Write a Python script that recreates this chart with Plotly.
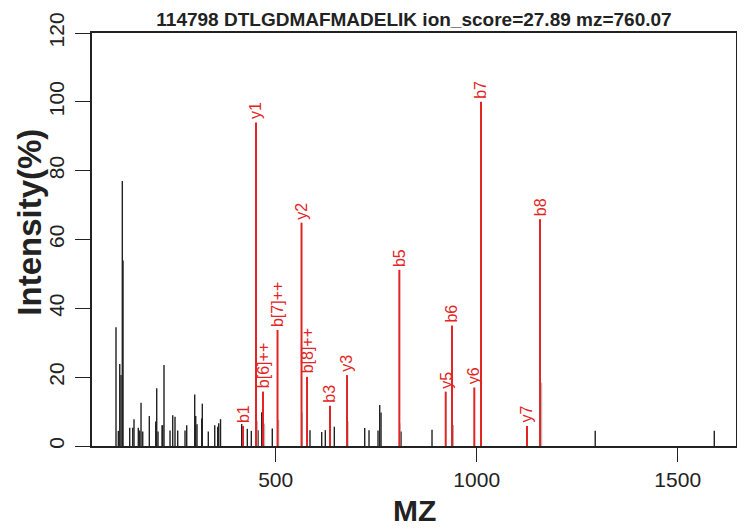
import plotly.graph_objects as go

# matched fragment ions (red)
ion_label = ["b1", "y1", "b[6]++", "b[7]++", "y2", "b[8]++", "b3", "y3",
             "b5", "y5", "b6", "y6", "b7", "y7", "b8"]
ion_mz = [418.7, 451.0, 468.4, 504.5, 564.2, 577.9, 635.1, 677.4,
          807.5, 922.9, 938.6, 994.0, 1010.7, 1125.1, 1157.5]
ion_int = [5.8, 94.0, 15.8, 33.7, 64.9, 20.1, 11.7, 20.6,
           51.2, 15.8, 35.0, 17.0, 100.0, 5.8, 65.9]

# unmatched peaks (black)
peak_mz = [102.7, 108.5, 112.0, 115.2, 118.4, 120.2, 136.8, 144.3, 147.5, 158.2,
           161.7, 165.0, 169.2, 185.6, 201.5, 204.0, 207.2, 217.2, 218.9, 222.1,
           237.1, 243.8, 249.5, 256.2, 274.4, 278.6, 298.5, 301.0, 304.2, 315.9,
           317.4, 332.3, 348.3, 355.7, 358.2, 362.7, 415.4, 429.4, 439.3, 456.0,
           465.2, 491.5, 585.3, 614.4, 623.4, 645.8, 721.4, 732.1, 754.5, 758.7,
           762.0, 811.7, 888.8, 1294.8, 1591.0]
peak_int = [34.5, 4.4, 23.8, 20.6, 77.0, 53.9, 5.3, 5.3, 7.8, 5.3,
            4.5, 12.6, 4.2, 8.7, 7.1, 16.8, 4.2, 6.0, 6.0, 23.5,
            4.5, 8.9, 8.5, 4.5, 4.5, 6.0, 15.0, 8.7, 6.3, 8.0,
            12.3, 4.2, 6.0, 5.6, 6.6, 7.8, 6.4, 5.0, 4.4, 4.6,
            9.8, 5.1, 4.6, 4.1, 4.6, 5.6, 5.2, 4.6, 4.5, 11.9,
            9.7, 4.2, 4.7, 4.4, 4.4]

# faint peaks sitting next to matched ions
faint_mz = [454.0, 472.6, 507.5, 566.2, 680.0, 809.0, 942.0, 1161.7]
faint_int = [7.3, 6.5, 7.5, 9.7, 7.2, 6.6, 6.1, 18.4]

title = "114798 DTLGDMAFMADELIK ion_score=27.89 mz=760.07"


def stems(mz, inten):
    xs, ys = [], []
    for m, i in zip(mz, inten):
        xs += [m, m, None]
        ys += [0, i, None]
    return xs, ys


red = "rgb(226,36,36)"
ink = "#222222"

fig = go.Figure()
x, y = stems(peak_mz, peak_int)
fig.add_trace(go.Scatter(x=x, y=y, mode="lines", line=dict(color=ink, width=1.4),
                         hoverinfo="skip"))
x, y = stems(faint_mz, faint_int)
fig.add_trace(go.Scatter(x=x, y=y, mode="lines", line=dict(color="#aaaaaa", width=1),
                         hoverinfo="skip"))
x, y = stems(ion_mz, ion_int)
fig.add_trace(go.Scatter(x=x, y=y, mode="lines", line=dict(color=red, width=2),
                         hoverinfo="skip"))

for lab, m, i in zip(ion_label, ion_mz, ion_int):
    fig.add_annotation(x=m, y=i, text=lab, textangle=-90, showarrow=False,
                       xanchor="center", yanchor="bottom", yshift=1,
                       font=dict(color=red, size=16, family="Liberation Sans"))

# axis titles
fig.add_annotation(xref="paper", yref="paper", x=-0.097, y=0.542, text="<b>Intensity(%)</b>",
                   textangle=-90, showarrow=False, xanchor="center", yanchor="middle",
                   font=dict(size=33, color=ink, family="Liberation Sans"))
fig.add_annotation(xref="paper", yref="paper", x=0.5, y=-0.157, text="<b>MZ</b>",
                   showarrow=False, xanchor="center", yanchor="middle",
                   font=dict(size=30, color=ink, family="Liberation Sans"))

# page body has an 8px margin, so the figure is sized to fit inside the window
fig.update_layout(
    width=737, height=522,
    margin=dict(l=84, r=9, t=25, b=84, autoexpand=False),
    paper_bgcolor="white", plot_bgcolor="white",
    showlegend=False,
    font=dict(family="Liberation Sans", color=ink),
    title=dict(text="<b>" + title + "</b>", x=0.5, xref="paper",
               y=1 - 11 / 522, yref="container", yanchor="middle",
               font=dict(size=19, color=ink)),
    xaxis=dict(range=[43, 1645], tickvals=[500, 1000, 1500], ticks="outside",
               ticklen=14, tickwidth=1.3, tickcolor=ink, showgrid=False, zeroline=False,
               showline=True, mirror=True, linecolor=ink, linewidth=1.5, automargin=False,
               tickfont=dict(size=21, color=ink)),
    yaxis=dict(range=[0, 120], tickvals=[0, 20, 40, 60, 80, 100, 120], ticks="outside",
               ticklen=15, tickwidth=1.3, tickcolor=ink, showgrid=False, zeroline=False,
               showline=True, mirror=True, linecolor=ink, linewidth=1.5, automargin=False,
               tickangle=-90, ticklabelstandoff=3, tickfont=dict(size=21, color=ink)),
)

fig.write_html("out.html")
